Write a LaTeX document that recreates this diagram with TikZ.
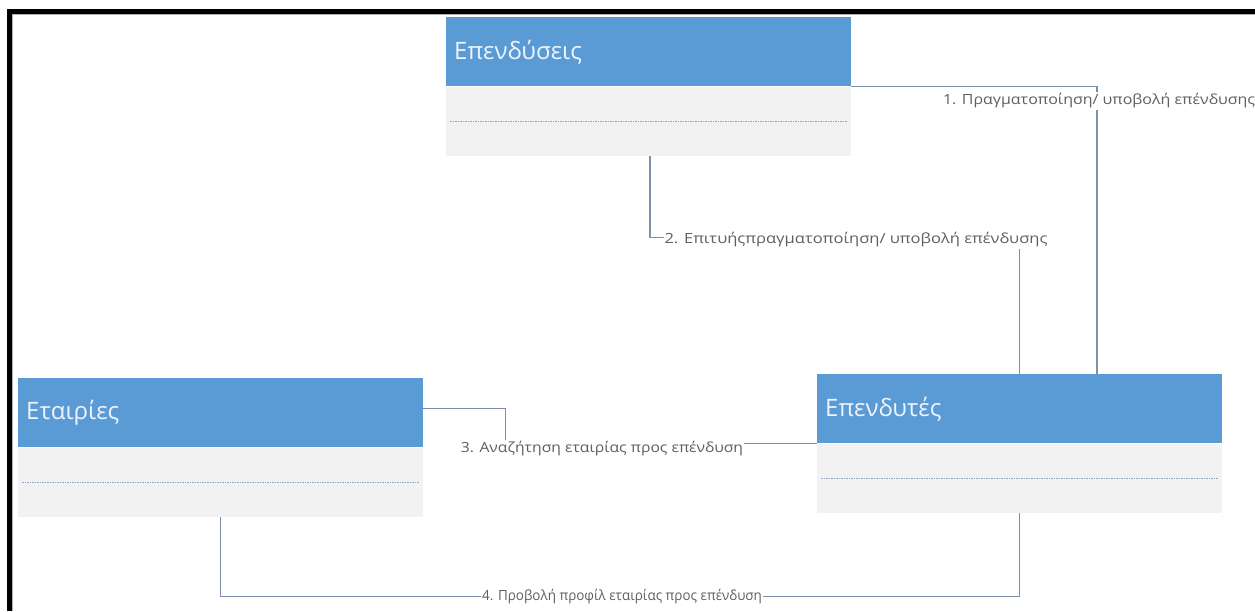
\documentclass[tikz,border=0pt]{standalone}
\usepackage{fontspec}
\setmainfont{Open Sans}
\usetikzlibrary{calc}
\definecolor{headblue}{HTML}{5B9BD5}
\definecolor{bodygray}{HTML}{F2F2F2}
\definecolor{linkcol}{HTML}{7D90A8}
\definecolor{dotcol}{HTML}{8FA6C4}
\definecolor{labelcol}{HTML}{5F5F5F}
\definecolor{headtext}{HTML}{EEF4FB}
\definecolor{edgegray}{HTML}{B0B0B0}

\begin{document}
\begin{tikzpicture}[x=1pt,y=-1pt,
  classhead/.style={fill=headblue, draw=none, minimum width=405pt, minimum height=69pt,
    text width=389pt, inner xsep=8pt, inner ysep=0pt, align=left, anchor=north west,
    font=\fontsize{24}{28}\selectfont, text=headtext},
  classbody/.style={fill=bodygray, draw=none, minimum width=405pt, minimum height=69pt,
    inner sep=0pt, anchor=north},
  dotline/.style={dotcol, line width=1.3pt, dash pattern=on 1.5pt off 1pt},
  link/.style={linkcol, line width=1.2pt},
  lbl/.style={fill=white, inner xsep=1pt, inner ysep=2pt, text=labelcol,
    font=\fontsize{14}{16}\selectfont}
]
\useasboundingbox (0,0) rectangle (1255,611);

% frame along the top and left edges
\draw[edgegray, line width=1pt] (12.8,611) -- (12.8,14.8) -- (1255,14.8);
\draw[black, line width=5.5pt] (9.5,611) -- (9.5,11.5) -- (1255,11.5);

% classes
\node[classhead] (invH) at (446,17) {Επενδύσεις};
\node[classbody] (invB) at (invH.south) {};
\draw[dotline] ([xshift=4pt,yshift=-35pt]invB.north west) -- ([xshift=-4pt,yshift=-35pt]invB.north east);

\node[classhead] (compH) at (18,378) {Εταιρίες};
\node[classbody] (compB) at (compH.south) {};
\draw[dotline] ([xshift=4pt,yshift=-35pt]compB.north west) -- ([xshift=-4pt,yshift=-35pt]compB.north east);

\node[classhead] (invtH) at (817,374) {Επενδυτές};
\node[classbody] (invtB) at (invtH.south) {};
\draw[dotline] ([xshift=4pt,yshift=-35pt]invtB.north west) -- ([xshift=-4pt,yshift=-35pt]invtB.north east);

% associations
\draw[link] (invH.south east) -| ([xshift=280pt]invtH.north west);
\node[lbl] (l1) at (1099,101) {\scalebox{1.14}[1]{1. Πραγματοποίηση/ υποβολή επένδυσης}};

\draw[link] ([xshift=204pt]invB.south west) -- ++(0,82) -| (invtH.north);
\node[lbl] (l2) at (856,240) {\scalebox{1.18}[1]{2. Επιτυήςπραγματοποίηση/ υποβολή επένδυσης}};

\draw[link] ([yshift=4.5pt]compH.east) -- ++(82,0) |- (invtH.south west);
\node[lbl] (l3) at (602,449) {\scalebox{1.12}[1]{3. Αναζήτηση εταιρίας προς επένδυση}};

\draw[link] (compB.south) -- ++(0,80) -| (invtB.south);
\node[lbl] (l4) at (622,597) {\scalebox{0.96}[1]{4. Προβολή προφίλ εταιρίας προς επένδυση}};
\end{tikzpicture}
\end{document}
